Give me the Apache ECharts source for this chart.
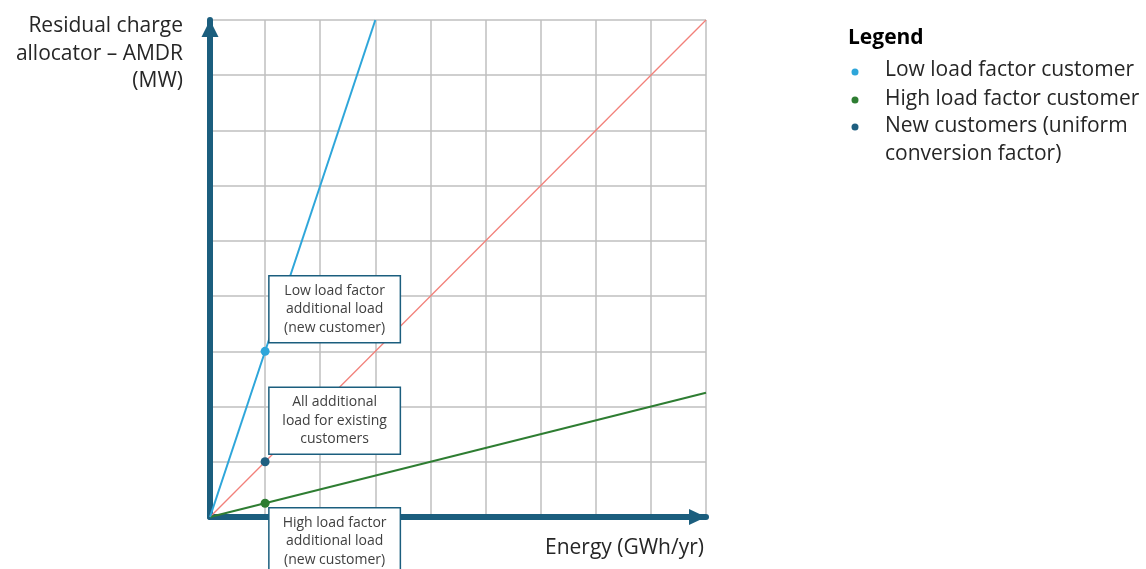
<!DOCTYPE html>
<html><head><meta charset="utf-8">
<script src="https://cdn.jsdelivr.net/npm/echarts@6/dist/echarts.min.js"></script>
<style>html,body{margin:0;padding:0;background:#fff}#c{width:1146px;height:569px}</style>
</head><body><div id="c"></div>
<script>
// Data
const xMax = 9, yMax = 9;
const lowLoadLine = [[0, 0], [3, 9]];
const uniformLine = [[0, 0], [9, 9]];
const highLoadLine = [[0, 0], [9, 2.25]];
const lowLoadPoint = [[1, 3]];
const newCustPoint = [[1, 1]];
const highLoadPoint = [[1, 0.25]];
const boxLabels = [
  'Low load factor\nadditional load\n(new customer)',
  'All additional\nload for existing\ncustomers',
  'High load factor\nadditional load\n(new customer)'
];
const legendNames = ['Low load factor customer', 'High load factor customer', 'New customers (uniform\nconversion factor)'];
const yTitle = 'Residual charge\nallocator – AMDR\n(MW)';
const xTitle = 'Energy (GWh/yr)';

const FONT = '"Open Sans", "Noto Sans", sans-serif';
const AXIS = '#1b5e7e';
const C_LOW = '#2ea6da', C_HIGH = '#2e7d32', C_NEW = '#1f5f80', C_RED = '#f2807a';
const TXT = '#262626';

const boxStyle = (txt, dy) => ({
  show: true, formatter: txt, position: 'right', distance: 0, offset: [65, dy],
  backgroundColor: '#fff', borderColor: AXIS, borderWidth: 1.5,
  padding: [5, 6], width: 118, align: 'center', lineHeight: 18.5,
  fontFamily: FONT, fontSize: 14, color: '#404040'
});

const chart = echarts.init(document.getElementById('c'), null, {renderer: 'canvas'});
chart.setOption({
  animation: false,
  grid: {left: 210, right: 440, top: 20, bottom: 52},
  xAxis: {type: 'value', min: 0, max: xMax, interval: 1,
    axisLine: {show: true, lineStyle: {color: AXIS, width: 6}, symbol: ['none', 'triangle'], symbolSize: [16, 17], symbolOffset: [0, -8.5]},
    axisTick: {show: false}, axisLabel: {show: false},
    splitLine: {show: true, lineStyle: {color: '#bfbfbf', width: 1.5}}},
  yAxis: {type: 'value', min: 0, max: yMax, interval: 1,
    axisLine: {show: true, lineStyle: {color: AXIS, width: 6}, symbol: ['none', 'triangle'], symbolSize: [17, 17], symbolOffset: [0, -8.5]},
    axisTick: {show: false}, axisLabel: {show: false},
    splitLine: {show: true, lineStyle: {color: '#bfbfbf', width: 1.5}}},
  series: [
    {type: 'line', data: uniformLine, symbol: 'none', lineStyle: {color: C_RED, width: 1.3}, z: 2},
    {type: 'line', data: highLoadLine, symbol: 'none', lineStyle: {color: C_HIGH, width: 2}, z: 3},
    {type: 'line', data: lowLoadLine, symbol: 'none', lineStyle: {color: C_LOW, width: 2}, z: 3},
    {type: 'scatter', name: legendNames[0], data: lowLoadPoint, symbolSize: 9, itemStyle: {color: C_LOW, opacity: 1}, label: boxStyle(boxLabels[0], -42), z: 5},
    {type: 'scatter', name: legendNames[2], data: newCustPoint, symbolSize: 9, itemStyle: {color: C_NEW, opacity: 1}, label: boxStyle(boxLabels[1], -41), z: 5},
    {type: 'scatter', name: legendNames[1], data: highLoadPoint, symbolSize: 9, itemStyle: {color: C_HIGH, opacity: 1}, label: boxStyle(boxLabels[2], 38), z: 5}
  ],
  graphic: [
    {type: 'text', x: 183, y: 12, style: {text: yTitle, font: '21px ' + FONT, fill: TXT, align: 'right', verticalAlign: 'top', lineHeight: 27.8}},
    {type: 'text', x: 704, y: 548, style: {text: xTitle, font: '21px ' + FONT, fill: TXT, align: 'right', verticalAlign: 'middle'}},
    {type: 'text', x: 848, y: 38, style: {text: 'Legend', font: 'bold 21px ' + FONT, fill: '#000', verticalAlign: 'middle'}},
    {type: 'circle', shape: {cx: 855, cy: 72, r: 3.5}, style: {fill: C_LOW}},
    {type: 'circle', shape: {cx: 855, cy: 100, r: 3.5}, style: {fill: C_HIGH}},
    {type: 'circle', shape: {cx: 855, cy: 127, r: 3.5}, style: {fill: C_NEW}},
    {type: 'text', x: 885, y: 70, style: {text: legendNames[0], font: '21px ' + FONT, fill: TXT, verticalAlign: 'middle'}},
    {type: 'text', x: 885, y: 99, style: {text: legendNames[1], font: '21px ' + FONT, fill: TXT, verticalAlign: 'middle'}},
    {type: 'text', x: 885, y: 126 - 14, style: {text: legendNames[2], font: '21px ' + FONT, fill: TXT, verticalAlign: 'top', lineHeight: 28}}
  ]
});
</script></body></html>
